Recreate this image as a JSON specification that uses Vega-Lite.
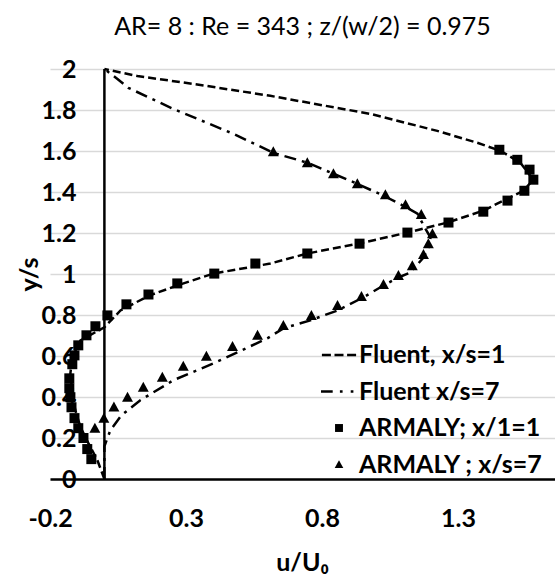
{
  "$schema": "https://vega.github.io/schema/vega-lite/v6.json",
  "width": 505,
  "height": 410,
  "autosize": {"type": "none"},
  "padding": {"left": 50, "top": 69, "right": 0, "bottom": 95},
  "background": "white",
  "title": {"text": "AR= 8 : Re = 343 ; z/(w/2) = 0.975", "fontSize": 25, "fontWeight": "normal", "font": "Lato", "anchor": "middle", "offset": 17, "color": "#000000"},
  "config": {
    "font": "Lato",
    "view": {"stroke": null},
    "legend": {
      "orient": "none", "legendX": 271, "legendY": 268, "padding": 0,
      "symbolSize": 1296, "labelFontSize": 25, "labelFontWeight": "bold", "labelFont": "Lato", "labelColor": "#000000",
      "labelLimit": 400, "labelOffset": 2, "rowPadding": 5.5, "symbolStrokeWidth": 0, "symbolFillColor": "#000000", "symbolOpacity": 1
    }
  },
  "data": {"values": [
    {"series": "Fluent, x/s=1", "x": 0, "y": 2},
    {"series": "Fluent, x/s=1", "x": 0.121, "y": 1.966},
    {"series": "Fluent, x/s=1", "x": 0.353, "y": 1.922},
    {"series": "Fluent, x/s=1", "x": 0.61, "y": 1.869},
    {"series": "Fluent, x/s=1", "x": 0.978, "y": 1.781},
    {"series": "Fluent, x/s=1", "x": 1.224, "y": 1.698},
    {"series": "Fluent, x/s=1", "x": 1.371, "y": 1.64},
    {"series": "Fluent, x/s=1", "x": 1.456, "y": 1.601},
    {"series": "Fluent, x/s=1", "x": 1.529, "y": 1.543},
    {"series": "Fluent, x/s=1", "x": 1.577, "y": 1.46},
    {"series": "Fluent, x/s=1", "x": 1.54, "y": 1.406},
    {"series": "Fluent, x/s=1", "x": 1.467, "y": 1.358},
    {"series": "Fluent, x/s=1", "x": 1.393, "y": 1.309},
    {"series": "Fluent, x/s=1", "x": 1.261, "y": 1.251},
    {"series": "Fluent, x/s=1", "x": 1.114, "y": 1.202},
    {"series": "Fluent, x/s=1", "x": 0.934, "y": 1.148},
    {"series": "Fluent, x/s=1", "x": 0.746, "y": 1.1},
    {"series": "Fluent, x/s=1", "x": 0.61, "y": 1.051},
    {"series": "Fluent, x/s=1", "x": 0.401, "y": 1.002},
    {"series": "Fluent, x/s=1", "x": 0.268, "y": 0.944},
    {"series": "Fluent, x/s=1", "x": 0.165, "y": 0.895},
    {"series": "Fluent, x/s=1", "x": 0.059, "y": 0.822},
    {"series": "Fluent, x/s=1", "x": 0, "y": 0.74},
    {"series": "Fluent, x/s=1", "x": -0.088, "y": 0.676},
    {"series": "Fluent, x/s=1", "x": -0.118, "y": 0.594},
    {"series": "Fluent, x/s=1", "x": -0.125, "y": 0.516},
    {"series": "Fluent, x/s=1", "x": -0.118, "y": 0.418},
    {"series": "Fluent, x/s=1", "x": -0.107, "y": 0.336},
    {"series": "Fluent, x/s=1", "x": -0.088, "y": 0.253},
    {"series": "Fluent, x/s=1", "x": -0.059, "y": 0.175},
    {"series": "Fluent, x/s=1", "x": -0.026, "y": 0.092},
    {"series": "Fluent, x/s=1", "x": 0, "y": 0},
    {"series": "Fluent x/s=7", "x": 0, "y": 2},
    {"series": "Fluent x/s=7", "x": 0.048, "y": 1.951},
    {"series": "Fluent x/s=7", "x": 0.088, "y": 1.908},
    {"series": "Fluent x/s=7", "x": 0.254, "y": 1.805},
    {"series": "Fluent x/s=7", "x": 0.474, "y": 1.684},
    {"series": "Fluent x/s=7", "x": 0.621, "y": 1.591},
    {"series": "Fluent x/s=7", "x": 0.746, "y": 1.543},
    {"series": "Fluent x/s=7", "x": 0.842, "y": 1.489},
    {"series": "Fluent x/s=7", "x": 0.93, "y": 1.44},
    {"series": "Fluent x/s=7", "x": 1.026, "y": 1.382},
    {"series": "Fluent x/s=7", "x": 1.099, "y": 1.333},
    {"series": "Fluent x/s=7", "x": 1.151, "y": 1.294},
    {"series": "Fluent x/s=7", "x": 1.18, "y": 1.221},
    {"series": "Fluent x/s=7", "x": 1.199, "y": 1.178},
    {"series": "Fluent x/s=7", "x": 1.191, "y": 1.129},
    {"series": "Fluent x/s=7", "x": 1.173, "y": 1.08},
    {"series": "Fluent x/s=7", "x": 1.125, "y": 1.007},
    {"series": "Fluent x/s=7", "x": 1.081, "y": 0.983},
    {"series": "Fluent x/s=7", "x": 1.026, "y": 0.944},
    {"series": "Fluent x/s=7", "x": 0.952, "y": 0.886},
    {"series": "Fluent x/s=7", "x": 0.857, "y": 0.822},
    {"series": "Fluent x/s=7", "x": 0.757, "y": 0.774},
    {"series": "Fluent x/s=7", "x": 0.658, "y": 0.735},
    {"series": "Fluent x/s=7", "x": 0.599, "y": 0.686},
    {"series": "Fluent x/s=7", "x": 0.401, "y": 0.564},
    {"series": "Fluent x/s=7", "x": 0.254, "y": 0.482},
    {"series": "Fluent x/s=7", "x": 0.132, "y": 0.384},
    {"series": "Fluent x/s=7", "x": 0.062, "y": 0.31},
    {"series": "Fluent x/s=7", "x": 0.022, "y": 0.238},
    {"series": "Fluent x/s=7", "x": 0, "y": 0.16},
    {"series": "Fluent x/s=7", "x": 0, "y": 0},
    {"series": "ARMALY; x/1=1", "x": 1.452, "y": 1.606},
    {"series": "ARMALY; x/1=1", "x": 1.518, "y": 1.557},
    {"series": "ARMALY; x/1=1", "x": 1.563, "y": 1.509},
    {"series": "ARMALY; x/1=1", "x": 1.577, "y": 1.46},
    {"series": "ARMALY; x/1=1", "x": 1.544, "y": 1.406},
    {"series": "ARMALY; x/1=1", "x": 1.482, "y": 1.358},
    {"series": "ARMALY; x/1=1", "x": 1.393, "y": 1.304},
    {"series": "ARMALY; x/1=1", "x": 1.265, "y": 1.251},
    {"series": "ARMALY; x/1=1", "x": 1.114, "y": 1.202},
    {"series": "ARMALY; x/1=1", "x": 0.938, "y": 1.148},
    {"series": "ARMALY; x/1=1", "x": 0.746, "y": 1.1},
    {"series": "ARMALY; x/1=1", "x": 0.555, "y": 1.051},
    {"series": "ARMALY; x/1=1", "x": 0.404, "y": 1.002},
    {"series": "ARMALY; x/1=1", "x": 0.268, "y": 0.954},
    {"series": "ARMALY; x/1=1", "x": 0.162, "y": 0.9},
    {"series": "ARMALY; x/1=1", "x": 0.081, "y": 0.852},
    {"series": "ARMALY; x/1=1", "x": 0.011, "y": 0.798},
    {"series": "ARMALY; x/1=1", "x": -0.033, "y": 0.745},
    {"series": "ARMALY; x/1=1", "x": -0.066, "y": 0.701},
    {"series": "ARMALY; x/1=1", "x": -0.096, "y": 0.652},
    {"series": "ARMALY; x/1=1", "x": -0.11, "y": 0.603},
    {"series": "ARMALY; x/1=1", "x": -0.118, "y": 0.56},
    {"series": "ARMALY; x/1=1", "x": -0.129, "y": 0.491},
    {"series": "ARMALY; x/1=1", "x": -0.129, "y": 0.443},
    {"series": "ARMALY; x/1=1", "x": -0.125, "y": 0.399},
    {"series": "ARMALY; x/1=1", "x": -0.121, "y": 0.35},
    {"series": "ARMALY; x/1=1", "x": -0.11, "y": 0.297},
    {"series": "ARMALY; x/1=1", "x": -0.096, "y": 0.248},
    {"series": "ARMALY; x/1=1", "x": -0.077, "y": 0.2},
    {"series": "ARMALY; x/1=1", "x": -0.063, "y": 0.146},
    {"series": "ARMALY; x/1=1", "x": -0.048, "y": 0.097},
    {"series": "ARMALY ; x/s=7", "x": 0.621, "y": 1.596},
    {"series": "ARMALY ; x/s=7", "x": 0.746, "y": 1.543},
    {"series": "ARMALY ; x/s=7", "x": 0.842, "y": 1.489},
    {"series": "ARMALY ; x/s=7", "x": 0.93, "y": 1.44},
    {"series": "ARMALY ; x/s=7", "x": 1.033, "y": 1.387},
    {"series": "ARMALY ; x/s=7", "x": 1.107, "y": 1.338},
    {"series": "ARMALY ; x/s=7", "x": 1.165, "y": 1.29},
    {"series": "ARMALY ; x/s=7", "x": 1.206, "y": 1.197},
    {"series": "ARMALY ; x/s=7", "x": 1.191, "y": 1.148},
    {"series": "ARMALY ; x/s=7", "x": 1.173, "y": 1.095},
    {"series": "ARMALY ; x/s=7", "x": 1.132, "y": 1.041},
    {"series": "ARMALY ; x/s=7", "x": 1.081, "y": 0.993},
    {"series": "ARMALY ; x/s=7", "x": 1.026, "y": 0.949},
    {"series": "ARMALY ; x/s=7", "x": 0.945, "y": 0.891},
    {"series": "ARMALY ; x/s=7", "x": 0.857, "y": 0.847},
    {"series": "ARMALY ; x/s=7", "x": 0.761, "y": 0.798},
    {"series": "ARMALY ; x/s=7", "x": 0.658, "y": 0.749},
    {"series": "ARMALY ; x/s=7", "x": 0.563, "y": 0.701},
    {"series": "ARMALY ; x/s=7", "x": 0.471, "y": 0.647},
    {"series": "ARMALY ; x/s=7", "x": 0.375, "y": 0.599},
    {"series": "ARMALY ; x/s=7", "x": 0.29, "y": 0.55},
    {"series": "ARMALY ; x/s=7", "x": 0.213, "y": 0.496},
    {"series": "ARMALY ; x/s=7", "x": 0.143, "y": 0.448},
    {"series": "ARMALY ; x/s=7", "x": 0.085, "y": 0.399},
    {"series": "ARMALY ; x/s=7", "x": 0.035, "y": 0.352},
    {"series": "ARMALY ; x/s=7", "x": -0.002, "y": 0.297},
    {"series": "ARMALY ; x/s=7", "x": -0.035, "y": 0.248}
  ]},
  "encoding": {
    "x": {
      "field": "x", "type": "quantitative",
      "scale": {"domain": [-0.2, 1.6566], "nice": false, "zero": false},
      "axis": {
        "values": [-0.2, 0.3, 0.8, 1.3], "labelExpr": "'' + datum.value",
        "grid": false, "ticks": false, "tickSize": 0,
        "domain": true, "domainColor": "#000000", "domainWidth": 2.5,
        "labelFontSize": 25, "labelFontWeight": "bold", "labelColor": "#000000",
        "labelBaseline": "middle", "labelPadding": 39, "labelFlush": false, "labelOverlap": false,
        "title": "u/U₀", "titleFontSize": 25, "titleFontWeight": "bold", "titleColor": "#000000",
        "titleX": 252, "titleY": 83, "titleBaseline": "middle"
      }
    },
    "y": {
      "field": "y", "type": "quantitative",
      "scale": {"domain": [0, 2], "nice": false},
      "axis": {
        "values": [0, 0.2, 0.4, 0.6, 0.8, 1, 1.2, 1.4, 1.6, 1.8, 2], "labelExpr": "'' + datum.value",
        "grid": true, "gridColor": "#d9d9d9", "gridWidth": 1.5,
        "ticks": false, "tickSize": 0, "domain": false,
        "labelFontSize": 25, "labelFontWeight": "bold", "labelColor": "#000000",
        "labelAlign": "right", "labelBaseline": "middle", "labelPadding": -26, "labelFlush": false, "labelOverlap": false,
        "title": "y/s", "titleFontSize": 25, "titleFontWeight": "bold", "titleColor": "#000000",
        "titleX": -21, "titleY": 205, "titleBaseline": "middle", "titleAngle": -90
      }
    }
  },
  "layer": [
    {
      "data": {"values": [{"u": 0, "ylo": 0, "yhi": 2}]},
      "mark": {"type": "rule", "color": "#000000", "strokeWidth": 2.5},
      "encoding": {
        "x": {"field": "u", "type": "quantitative"},
        "y": {"field": "ylo", "type": "quantitative"},
        "y2": {"field": "yhi"}
      }
    },
    {
      "transform": [{"filter": "indexof(datum.series, 'Fluent') === 0"}],
      "mark": {"type": "line", "color": "#000000", "strokeWidth": 2.5},
      "encoding": {
        "order": {"field": "y", "type": "quantitative"},
        "strokeDash": {
          "field": "series", "type": "nominal",
          "scale": {"domain": ["Fluent, x/s=1", "Fluent x/s=7"], "range": [[8, 4], [12, 6, 3, 6]]},
          "legend": null
        }
      }
    },
    {
      "transform": [{"filter": "indexof(datum.series, 'ARMALY') === 0"}],
      "mark": {"type": "point", "filled": true, "color": "#000000", "opacity": 1, "size": 2070, "strokeWidth": 0},
      "encoding": {
        "shape": {
          "field": "series", "type": "nominal",
          "scale": {
            "domain": ["Fluent, x/s=1", "Fluent x/s=7", "ARMALY; x/1=1", "ARMALY ; x/s=7"],
            "range": [
              "M-0.95,-0.07H-0.45V0.07H-0.95Z M-0.25,-0.07H0.25V0.07H-0.25Z M0.45,-0.07H0.95V0.07H0.45Z",
              "M-1,-0.07H-0.35V0.07H-1Z M0.05,-0.07H0.2V0.07H0.05Z M0.65,-0.07H0.8V0.07H0.65Z",
              "M-0.22,-0.22H0.22V0.22H-0.22Z",
              "M0,-0.24L0.24,0.2H-0.24Z"
            ]
          },
          "legend": {"title": null}
        }
      }
    }
  ]
}
